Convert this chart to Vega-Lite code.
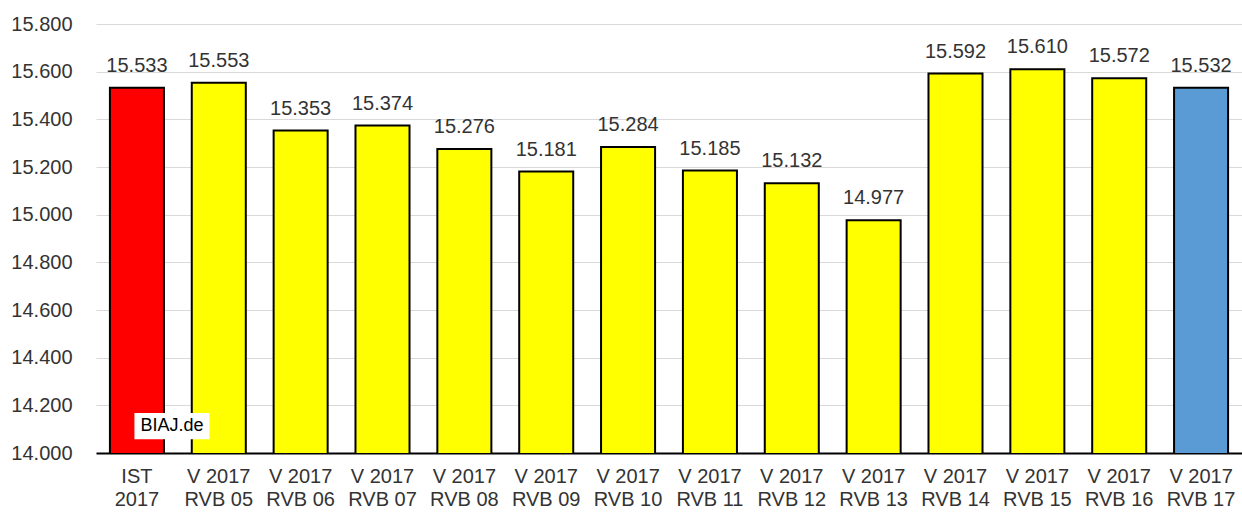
{
  "$schema": "https://vega.github.io/schema/vega-lite/v6.json",
  "width": 1146,
  "height": 429,
  "autosize": {"type": "none"},
  "padding": {"left": 96, "top": 24, "right": 0, "bottom": 59},
  "background": "white",
  "config": {
    "locale": {"number": {"decimal": ",", "thousands": ".", "grouping": [3], "currency": ["", " €"]}},
    "view": {"stroke": null},
    "font": "Liberation Sans"
  },
  "data": {
    "values": [
      {"cat": "IST|2017", "group": "Ist", "value": 15533},
      {"cat": "V 2017|RVB 05", "group": "Vorausschätzung", "value": 15553},
      {"cat": "V 2017|RVB 06", "group": "Vorausschätzung", "value": 15353},
      {"cat": "V 2017|RVB 07", "group": "Vorausschätzung", "value": 15374},
      {"cat": "V 2017|RVB 08", "group": "Vorausschätzung", "value": 15276},
      {"cat": "V 2017|RVB 09", "group": "Vorausschätzung", "value": 15181},
      {"cat": "V 2017|RVB 10", "group": "Vorausschätzung", "value": 15284},
      {"cat": "V 2017|RVB 11", "group": "Vorausschätzung", "value": 15185},
      {"cat": "V 2017|RVB 12", "group": "Vorausschätzung", "value": 15132},
      {"cat": "V 2017|RVB 13", "group": "Vorausschätzung", "value": 14977},
      {"cat": "V 2017|RVB 14", "group": "Vorausschätzung", "value": 15592},
      {"cat": "V 2017|RVB 15", "group": "Vorausschätzung", "value": 15610},
      {"cat": "V 2017|RVB 16", "group": "Vorausschätzung", "value": 15572},
      {"cat": "V 2017|RVB 17", "group": "Aktuell", "value": 15532}
    ]
  },
  "encoding": {
    "x": {
      "field": "cat",
      "type": "nominal",
      "sort": null,
      "scale": {"paddingInner": 0.34, "paddingOuter": 0.17},
      "axis": {
        "title": null,
        "labelAngle": 0,
        "labelExpr": "split(datum.value, '|')",
        "labelFontSize": 20,
        "labelColor": "#333333",
        "labelLineHeight": 23,
        "labelPadding": 13,
        "labelBaseline": "top",
        "ticks": false,
        "domainColor": "#000000",
        "domainWidth": 2,
        "grid": false
      }
    },
    "y": {
      "field": "value",
      "type": "quantitative",
      "scale": {"domain": [14000, 15800], "nice": false, "zero": false},
      "axis": {
        "title": null,
        "values": [14000, 14200, 14400, 14600, 14800, 15000, 15200, 15400, 15600, 15800],
        "format": ",.0f",
        "labelFontSize": 20,
        "labelColor": "#333333",
        "labelPadding": 24,
        "ticks": false,
        "domain": false,
        "gridColor": "#d9d9d9",
        "gridWidth": 1
      }
    }
  },
  "layer": [
    {
      "mark": {"type": "bar", "stroke": "#000000", "strokeWidth": 2, "clip": true},
      "encoding": {
        "color": {
          "field": "group",
          "type": "nominal",
          "scale": {"domain": ["Ist", "Vorausschätzung", "Aktuell"], "range": ["#ff0000", "#ffff00", "#5b9bd5"]},
          "legend": null
        }
      }
    },
    {
      "mark": {"type": "text", "baseline": "alphabetic", "dy": -16, "fontSize": 20, "color": "#333333"},
      "encoding": {
        "text": {"field": "value", "type": "quantitative", "format": ",.0f"}
      }
    },
    {
      "data": {"values": [{"cat": "IST|2017", "value": 14113, "label": "BIAJ.de"}]},
      "layer": [
        {
          "mark": {"type": "point", "shape": "M-1,-0.35H1V0.35H-1Z", "size": 5625, "filled": true, "color": "white", "opacity": 1, "xOffset": 35},
          "encoding": {}
        },
        {
          "mark": {"type": "text", "fontSize": 18, "color": "#000000", "dx": 35, "baseline": "middle"},
          "encoding": {"text": {"field": "label"}}
        }
      ]
    }
  ]
}
